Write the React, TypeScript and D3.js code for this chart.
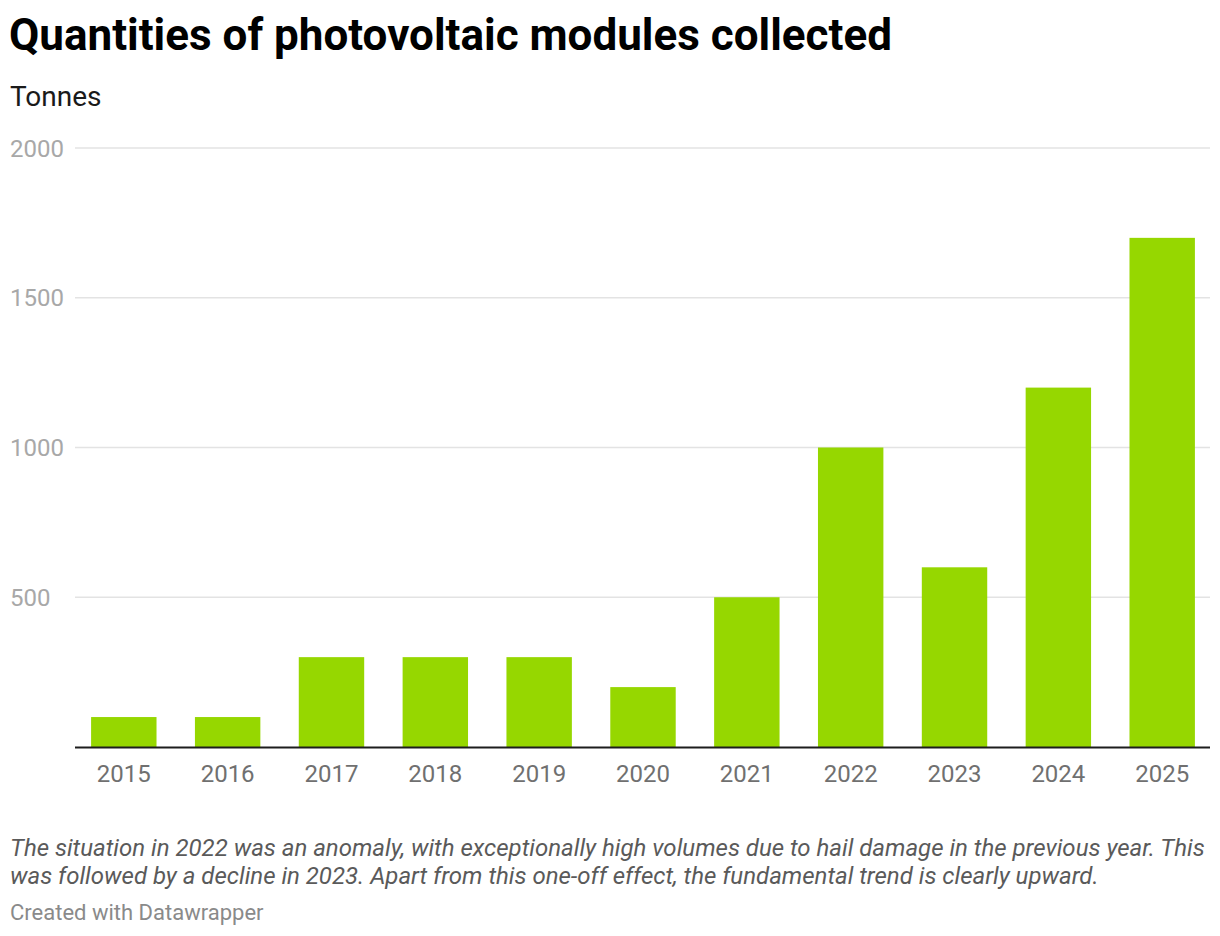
import React from 'react';
import * as d3 from 'd3';

const width = 1220;
const height = 936;

const years = ['2015', '2016', '2017', '2018', '2019', '2020', '2021', '2022', '2023', '2024', '2025'];
const tonnes = [100, 100, 300, 300, 300, 200, 500, 1000, 600, 1200, 1700];
const yTicks = [500, 1000, 1500, 2000];

const title = 'Quantities of photovoltaic modules collected';
const subtitle = 'Tonnes';
const noteLines = [
  'The situation in 2022 was an anomaly, with exceptionally high volumes due to hail damage in the previous year. This',
  'was followed by a decline in 2023. Apart from this one-off effect, the fundamental trend is clearly upward.',
];
const credit = 'Created with Datawrapper';

const plotLeft = 75;
const plotRight = 1211;
const plotTop = 148;
const plotBottom = 747;

const x = d3.scaleBand<string>()
  .domain(years)
  .range([plotLeft, plotRight])
  .paddingInner(0.37)
  .paddingOuter(0.155);

const y = d3.scaleLinear()
  .domain([0, 2000])
  .range([plotBottom, plotTop]);

const font = 'Roboto, sans-serif';

const App = () => (
  <svg width={width} height={height} style={{ position: 'absolute', left: 0, top: 0 }} fontFamily={font}>
    <rect width={width} height={height} fill="white" />
    <text x={9} y={50} fontSize={44} fontWeight={700} fill="#000">{title}</text>
    <text x={10} y={106} fontSize={28} fill="#1a1a1a">{subtitle}</text>

    {yTicks.map(t => (
      <g key={t}>
        <line x1={plotLeft} x2={plotRight - 1} y1={y(t)} y2={y(t)} stroke="#e3e3e3" strokeWidth={1.5} />
        <text x={10} y={y(t) + 8.5} fontSize={24} fill="#a8a8a8">{t}</text>
      </g>
    ))}

    {years.map((yr, i) => (
      <rect
        key={yr}
        x={x(yr)}
        y={y(tonnes[i])}
        width={x.bandwidth()}
        height={y(0) - y(tonnes[i])}
        fill="#96d700"
      />
    ))}

    <line x1={plotLeft} x2={plotRight - 1} y1={y(0) + 0.5} y2={y(0) + 0.5} stroke="#1d1d1d" strokeWidth={2} />

    {years.map(yr => (
      <text
        key={yr}
        x={(x(yr) as number) + x.bandwidth() / 2}
        y={782}
        fontSize={24}
        textAnchor="middle"
        fill="#707070"
      >
        {yr}
      </text>
    ))}

    {noteLines.map((l, i) => (
      <text key={i} x={10} y={856 + i * 28} fontSize={24} fontStyle="italic" fill="#5a5a5a">{l}</text>
    ))}
    <text x={10} y={920} fontSize={22} fill="#8a8a8a">{credit}</text>
  </svg>
);

export default App;
